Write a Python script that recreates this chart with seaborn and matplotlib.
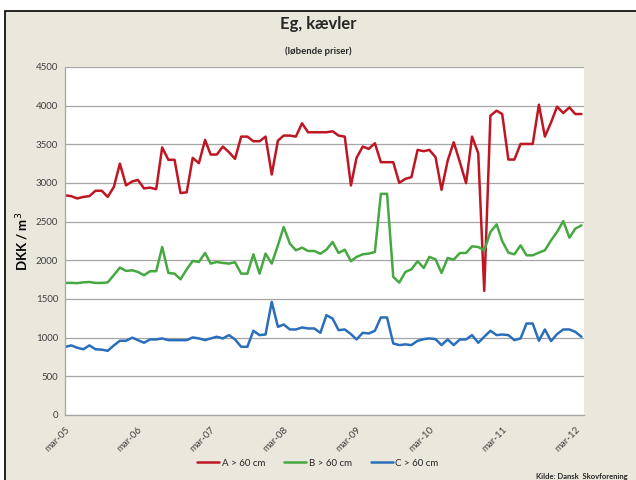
import pandas as pd
import matplotlib.pyplot as plt
import matplotlib.patches as mpatches
import seaborn as sns

# monthly prices, mar-05 .. apr-12 (DKK / m3)
klasse_a = [2840, 2830, 2800, 2820, 2830, 2900, 2900, 2820, 2950, 3250,
            2970, 3020, 3040, 2930, 2940, 2920, 3460, 3300, 3300, 2870,
            2880, 3325, 3256, 3557, 3368, 3368, 3471, 3398, 3312, 3600,
            3600, 3540, 3540, 3600, 3110, 3548, 3613, 3613, 3600, 3772,
            3656, 3656, 3656, 3656, 3669, 3613, 3600, 2968, 3325, 3471,
            3441, 3514, 3269, 3269, 3269, 3002, 3054, 3075, 3428, 3411,
            3428, 3334, 2912, 3291, 3527, 3269, 2998, 3600, 3385, 1605,
            3871, 3935, 3892, 3303, 3303, 3505, 3505, 3505, 4013, 3600,
            3785, 3987, 3905, 3978, 3892, 3892]
klasse_b = [1708, 1708, 1705, 1715, 1720, 1708, 1708, 1715, 1810, 1906,
            1863, 1871, 1850, 1807, 1859, 1859, 2172, 1837, 1828, 1755,
            1884, 1992, 1979, 2095, 1958, 1979, 1966, 1958, 1975, 1828,
            1828, 2078, 1828, 2087, 1958, 2194, 2431, 2216, 2130, 2164,
            2121, 2121, 2085, 2138, 2237, 2095, 2138, 1988, 2044, 2078,
            2087, 2108, 2860, 2860, 1786, 1712, 1850, 1884, 1988, 1901,
            2044, 2013, 1837, 2031, 2009, 2095, 2095, 2181, 2172, 2130,
            2366, 2465, 2250, 2099, 2078, 2194, 2065, 2065, 2100, 2130,
            2259, 2366, 2508, 2293, 2409, 2452]
klasse_c = [880, 900, 870, 850, 900, 850, 845, 830, 900, 960,
            960, 1000, 968, 934, 977, 977, 990, 968, 968, 968,
            968, 1003, 990, 968, 990, 1012, 990, 1033, 977, 882,
            882, 1089, 1033, 1041, 1463, 1140, 1170, 1106, 1106, 1132,
            1119, 1119, 1063, 1291, 1248, 1097, 1106, 1046, 977, 1063,
            1054, 1089, 1261, 1261, 925, 904, 913, 904, 960, 981,
            990, 981, 904, 977, 904, 977, 977, 1033, 934, 1012,
            1089, 1033, 1041, 1033, 968, 990, 1183, 1183, 960, 1106,
            956, 1046, 1106, 1106, 1076, 1012]
serier = ['A > 60 cm', 'B > 60 cm', 'C > 60 cm']
farver = ['#BE1622', '#46A840', '#2A6EBB']
tick_labels = ['mar-05', 'mar-06', 'mar-07', 'mar-08', 'mar-09', 'mar-10', 'mar-11', 'mar-12']

datoer = pd.date_range('2005-03-01', periods=len(klasse_a), freq='MS')
df = pd.concat([
    pd.DataFrame({'dato': datoer, 'pris': vals, 'serie': navn})
    for navn, vals in zip(serier, [klasse_a, klasse_b, klasse_c])
])

sns.set_theme(style='white')
plt.rcParams['font.family'] = ['Lato', 'DejaVu Sans']

bg = '#EAE7DD'
fig = plt.figure(figsize=(6.36, 4.8), dpi=100, facecolor='white')
# chart area frame (screenshot crops it at right/bottom)
fig.patches.append(mpatches.Rectangle((5 / 636, -0.05), 1.0, 0.05 + 469 / 480,
                                      transform=fig.transFigure, facecolor=bg,
                                      edgecolor='black', linewidth=1.2, zorder=-5))

ax = fig.add_axes([65 / 636, 65 / 480, 519 / 636, 348 / 480])
ax.set_facecolor('white')

sns.lineplot(data=df, x='dato', y='pris', hue='serie', palette=farver,
             linewidth=1.8, ax=ax)

ax.set_ylim(0, 4500)
ax.set_yticks(range(0, 4501, 500))
ax.yaxis.grid(True, color='#A6A6A6', linewidth=0.9)
ax.set_axisbelow(True)

ticks = pd.date_range('2005-03-01', periods=8, freq='12MS')
ax.set_xlim(pd.Timestamp('2005-03-01'), pd.Timestamp('2012-04-14'))
ax.set_xticks(ticks)
ax.set_xticklabels(tick_labels, rotation=45, ha='right', rotation_mode='anchor')

for side in ['top', 'right']:
    ax.spines[side].set_visible(False)
for side in ['left', 'bottom']:
    ax.spines[side].set_color('#A6A6A6')
    ax.spines[side].set_linewidth(0.9)
ax.tick_params(axis='both', which='major', direction='out', length=3, width=0.8,
               color='#A6A6A6', labelsize=7, labelcolor='#404040', pad=2)
ax.tick_params(axis='x', pad=4)

ax.set_xlabel('')
ax.set_ylabel('DKK / m$^3$', fontsize=9.5, fontweight='bold', color='black')
ax.yaxis.set_label_coords(-34 / 519, 0.5)

fig.text(318 / 636, 1 - 24 / 480, 'Eg, kævler', ha='center', va='center',
         fontsize=12, fontweight='bold')
fig.text(318 / 636, 1 - 51 / 480, '(løbende priser)', ha='center', va='center',
         fontsize=6.8, fontweight='bold')

ax.legend(loc='center', bbox_to_anchor=(318 / 636, 1 - 463 / 480),
          bbox_transform=fig.transFigure, ncol=3, frameon=False, fontsize=7,
          handlelength=2.2, handletextpad=0.3, columnspacing=2.0)
fig.text(536 / 636, 1 - 477 / 480, 'Kilde: Dansk  Skovforening', ha='left',
         va='center', fontsize=5.5, fontweight='bold')

fig.savefig('out.png', dpi=100, facecolor=fig.get_facecolor())
